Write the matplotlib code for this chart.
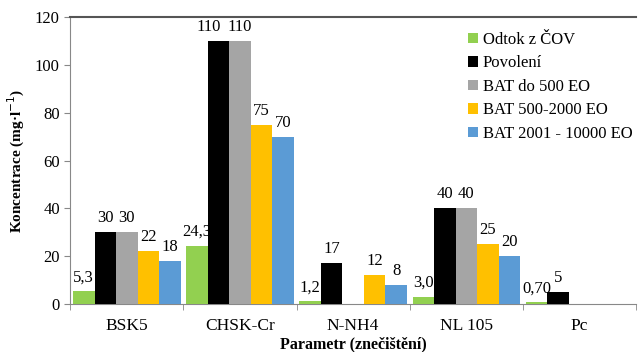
import numpy as np
import matplotlib.pyplot as plt

plt.rcParams['font.family'] = ['Liberation Serif', 'DejaVu Serif']

categories = ['BSK5', 'CHSK-Cr', 'N-NH4', 'NL 105', 'Pc']
series = ['Odtok z ČOV', 'Povolení', 'BAT do 500 EO', 'BAT 500-2000 EO', 'BAT 2001 - 10000 EO']
odtok = [5.3, 24.3, 1.2, 3.0, 0.70]
povoleni = [30, 110, 17, 40, 5]
bat_500 = [30, 110, np.nan, 40, np.nan]
bat_2000 = [22, 75, 12, 25, np.nan]
bat_10000 = [18, 70, 8, 20, np.nan]
labels = [
    ['5,3', '24,3', '1,2', '3,0', '0,70'],
    ['30', '110', '17', '40', '5'],
    ['30', '110', '', '40', ''],
    ['22', '75', '12', '25', ''],
    ['18', '70', '8', '20', ''],
]
colors = ['#92D050', '#000000', '#A5A5A5', '#FFC000', '#5B9BD5']

data = [odtok, povoleni, bat_500, bat_2000, bat_10000]

fig = plt.figure(figsize=(6.38, 3.52), dpi=100)
ax = fig.add_axes([0.11, 0.136, 0.887, 0.816])

x = np.arange(len(categories))
w = 0.19
for i, (vals, name, c) in enumerate(zip(data, series, colors)):
    pos = x + (i - 2) * w
    ax.bar(pos, vals, w, color=c, label=name, zorder=3)
    for j, (p, v, t) in enumerate(zip(pos, vals, labels[i])):
        if not t:
            continue
        dx = -0.09 if (i == 1 and j == 1) else 0  # nudge so "110 110" don't collide
        ax.text(p + dx, v + 2.5, t, ha='center', va='bottom', fontsize=12, zorder=1)

ax.set_xlim(-0.5, len(categories) - 0.5)
ax.set_ylim(0, 120)
ax.set_yticks(range(0, 121, 20))
ax.set_xticks(x)
ax.set_xticklabels(categories)
ax.set_xticks(np.arange(-0.5, len(categories), 1), minor=True)
ax.tick_params(axis='x', which='major', length=0, pad=10, labelsize=12.5)
ax.tick_params(axis='x', which='minor', length=4, color='#888888')
ax.tick_params(axis='y', length=4, color='#888888', labelsize=12)

for s in ['left', 'bottom']:
    ax.spines[s].set_color('#888888')
ax.spines['top'].set_color('#555555')
ax.spines['top'].set_linewidth(1.5)
ax.spines['right'].set_visible(False)

ax.set_ylabel('Koncentrace (mg·l$^{-1}$)', fontweight='bold', fontsize=11, labelpad=6)
ax.set_xlabel('Parametr (znečištění)', fontweight='bold', fontsize=11.5, labelpad=2)

ax.legend(loc='upper right', bbox_to_anchor=(1.02, 1.0), frameon=False, fontsize=12,
          handlelength=0.6, handleheight=0.6, handletextpad=0.3, labelspacing=0.45)

fig.savefig('out.png', dpi=100)
